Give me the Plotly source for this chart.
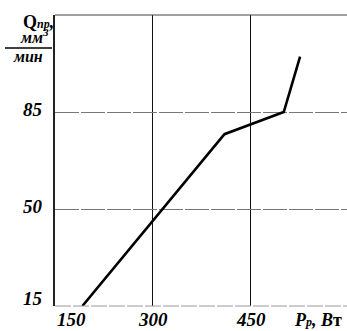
import plotly.graph_objects as go

# Removal rate vs. power curve
power_w = [192, 410, 501, 526]
q_rate = [15, 77, 85, 105]

x_ticks = [150, 300, 450]
y_ticks = [15, 50, 85]

X_RANGE = [150, 598]
Y_RANGE = [15, 120]

FONT = "Liberation Serif, DejaVu Serif, serif"


def bi(size):
    return dict(family=FONT, size=size, color="black", style="italic", weight="bold")


fig = go.Figure()
fig.add_trace(go.Scatter(
    x=power_w, y=q_rate, mode="lines",
    line=dict(color="black", width=2.6),
    hoverinfo="skip", showlegend=False,
))

fig.update_layout(
    width=347, height=331,
    margin=dict(l=55, r=0, t=15, b=25),
    paper_bgcolor="white", plot_bgcolor="white",
    xaxis=dict(
        range=X_RANGE, tickvals=[v for v in x_ticks if v > X_RANGE[0]],
        showticklabels=False, ticks="",
        showgrid=True, gridcolor="#111", gridwidth=1.2,
        zeroline=False, showline=False,
    ),
    yaxis=dict(
        range=Y_RANGE, tickvals=[v for v in y_ticks if v > Y_RANGE[0]],
        showticklabels=False, ticks="",
        showgrid=True, gridcolor="#777", gridwidth=1, griddash="24px,2px",
        zeroline=False, showline=True, linecolor="#222", linewidth=1.5,
    ),
)

# frame: darker top edge, lighter bottom edge
fig.add_shape(type="line", xref="paper", yref="paper", x0=0, x1=1, y0=1, y1=1,
              line=dict(color="#444", width=1.2))
fig.add_shape(type="line", xref="paper", yref="paper", x0=0, x1=1, y0=0, y1=0,
              line=dict(color="#999", width=1, dash="16px,2px"))

# x tick labels
for v in x_ticks:
    fig.add_annotation(
        x=v, y=0, xref="x", yref="paper", yshift=-1,
        text=f"{v}", showarrow=False, font=bi(19),
        xanchor="left" if v == X_RANGE[0] else "center", yanchor="top",
    )

# y tick labels
for v in y_ticks:
    fig.add_annotation(
        x=0, y=v, xref="paper", yref="y", xshift=-10,
        yshift=8 if v == Y_RANGE[0] else 3,
        text=f"{v}", showarrow=False, font=bi(19),
        xanchor="right", yanchor="middle",
    )

# x axis title: P_р, Вт
fig.add_annotation(
    x=1, y=0, xref="paper", yref="paper", xshift=-3, yshift=-2,
    text="P<span style='font-size:12px'>р</span>, В"
         "<span style='font-style:normal'>т</span>",
    showarrow=False, font=bi(18),
    xanchor="right", yanchor="top",
)

# y axis title: Q_пр, мм³/мин
fig.add_annotation(
    x=0, y=1, xref="paper", yref="paper", xshift=1, yshift=-7,
    text="<span style='font-style:normal'>Q</span>"
         "<span style='font-size:12px'>пр</span>,",
    showarrow=False, font=bi(18),
    xanchor="right", yanchor="middle",
)
fig.add_annotation(
    x=0, y=1, xref="paper", yref="paper", xshift=-4, yshift=-21,
    text="мм<sup>3</sup>", showarrow=False, font=bi(16),
    xanchor="right", yanchor="middle",
)
fig.add_shape(type="line", xref="paper", yref="paper",
              x0=-50 / 292, x1=-3 / 292, y0=1 - 33 / 291, y1=1 - 33 / 291,
              line=dict(color="black", width=1.6))
fig.add_annotation(
    x=0, y=1, xref="paper", yref="paper", xshift=-10, yshift=-41,
    text="мин", showarrow=False, font=bi(16),
    xanchor="right", yanchor="middle",
)

fig.write_html("out.html")
